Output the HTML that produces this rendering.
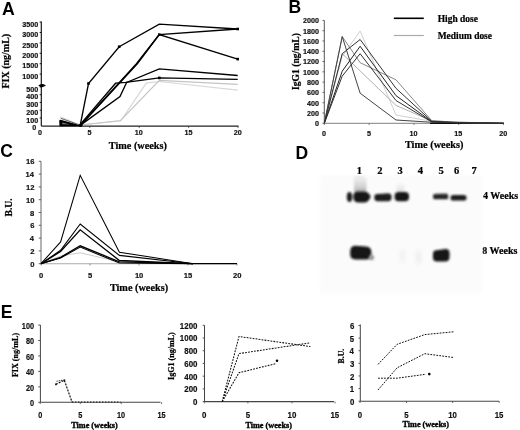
<!DOCTYPE html>
<html><head><meta charset="utf-8"><style>
html,body{margin:0;padding:0;background:#fff;width:520px;height:430px;overflow:hidden}
svg{display:block;will-change:transform;filter:blur(0.3px)}
</style></head><body>
<svg width="520" height="430" viewBox="0 0 520 430">
<rect width="520" height="430" fill="#fff"/>
<text x="2.08" y="14.85" font-family='"Liberation Sans", sans-serif' font-size="17.7" font-weight="bold" fill="#000">A</text>
<text x="288.42" y="12.89" font-family='"Liberation Sans", sans-serif' font-size="17.5" font-weight="bold" fill="#000">B</text>
<text x="0.28" y="157.44" font-family='"Liberation Sans", sans-serif' font-size="17.5" font-weight="bold" fill="#000">C</text>
<text x="295.44" y="158.89" font-family='"Liberation Sans", sans-serif' font-size="17.5" font-weight="bold" fill="#000">D</text>
<text x="0.71" y="318.14" font-family='"Liberation Sans", sans-serif' font-size="17.5" font-weight="bold" fill="#000">E</text>
<line x1="41.3" y1="21.5" x2="41.3" y2="126.1" stroke="#111" stroke-width="1.15"/>
<line x1="41.3" y1="126.1" x2="238.5" y2="126.1" stroke="#222" stroke-width="1.3"/>
<text x="22.24" y="26.88" font-family='"Liberation Sans", sans-serif' font-size="7.2" font-weight="bold" fill="#111" stroke="#111" stroke-width="0.18">3500</text>
<line x1="39.699999999999996" y1="22.100000000000005" x2="41.3" y2="22.100000000000005" stroke="#111" stroke-width="1.0"/>
<text x="22.24" y="37.28" font-family='"Liberation Sans", sans-serif' font-size="7.2" font-weight="bold" fill="#111" stroke="#111" stroke-width="0.18">3000</text>
<line x1="39.699999999999996" y1="32.50000000000001" x2="41.3" y2="32.50000000000001" stroke="#111" stroke-width="1.0"/>
<text x="22.24" y="47.68" font-family='"Liberation Sans", sans-serif' font-size="7.2" font-weight="bold" fill="#111" stroke="#111" stroke-width="0.18">2500</text>
<line x1="39.699999999999996" y1="42.900000000000006" x2="41.3" y2="42.900000000000006" stroke="#111" stroke-width="1.0"/>
<text x="22.24" y="58.08" font-family='"Liberation Sans", sans-serif' font-size="7.2" font-weight="bold" fill="#111" stroke="#111" stroke-width="0.18">2000</text>
<line x1="39.699999999999996" y1="53.30000000000001" x2="41.3" y2="53.30000000000001" stroke="#111" stroke-width="1.0"/>
<text x="22.24" y="68.48" font-family='"Liberation Sans", sans-serif' font-size="7.2" font-weight="bold" fill="#111" stroke="#111" stroke-width="0.18">1500</text>
<line x1="39.699999999999996" y1="63.7" x2="41.3" y2="63.7" stroke="#111" stroke-width="1.0"/>
<text x="22.24" y="78.88" font-family='"Liberation Sans", sans-serif' font-size="7.2" font-weight="bold" fill="#111" stroke="#111" stroke-width="0.18">1000</text>
<line x1="39.699999999999996" y1="74.10000000000001" x2="41.3" y2="74.10000000000001" stroke="#111" stroke-width="1.0"/>
<text x="26.25" y="91.73" font-family='"Liberation Sans", sans-serif' font-size="7.2" font-weight="bold" fill="#111" stroke="#111" stroke-width="0.18">500</text>
<line x1="39.699999999999996" y1="86.95" x2="41.3" y2="86.95" stroke="#111" stroke-width="1.0"/>
<text x="26.25" y="99.48" font-family='"Liberation Sans", sans-serif' font-size="7.2" font-weight="bold" fill="#111" stroke="#111" stroke-width="0.18">400</text>
<line x1="39.699999999999996" y1="94.7" x2="41.3" y2="94.7" stroke="#111" stroke-width="1.0"/>
<text x="26.25" y="107.23" font-family='"Liberation Sans", sans-serif' font-size="7.2" font-weight="bold" fill="#111" stroke="#111" stroke-width="0.18">300</text>
<line x1="39.699999999999996" y1="102.45" x2="41.3" y2="102.45" stroke="#111" stroke-width="1.0"/>
<text x="26.25" y="114.98" font-family='"Liberation Sans", sans-serif' font-size="7.2" font-weight="bold" fill="#111" stroke="#111" stroke-width="0.18">200</text>
<line x1="39.699999999999996" y1="110.2" x2="41.3" y2="110.2" stroke="#111" stroke-width="1.0"/>
<text x="26.25" y="122.73" font-family='"Liberation Sans", sans-serif' font-size="7.2" font-weight="bold" fill="#111" stroke="#111" stroke-width="0.18">100</text>
<line x1="39.699999999999996" y1="117.95" x2="41.3" y2="117.95" stroke="#111" stroke-width="1.0"/>
<text x="32.26" y="130.48" font-family='"Liberation Sans", sans-serif' font-size="7.2" font-weight="bold" fill="#111" stroke="#111" stroke-width="0.18">0</text>
<path d="M38.3,85.5 Q40,83.6 43,84 L46,85.5 L43,87.1 Q40,87.4 38.3,85.5 Z" fill="#000"/>
<text x="37.92" y="134.88" font-family='"Liberation Sans", sans-serif' font-size="7.2" font-weight="bold" fill="#111" stroke="#111" stroke-width="0.18">0</text>
<text x="87.48" y="134.85" font-family='"Liberation Sans", sans-serif' font-size="7.2" font-weight="bold" fill="#111" stroke="#111" stroke-width="0.18">5</text>
<text x="134.81" y="134.88" font-family='"Liberation Sans", sans-serif' font-size="7.2" font-weight="bold" fill="#111" stroke="#111" stroke-width="0.18">10</text>
<text x="184.47" y="134.85" font-family='"Liberation Sans", sans-serif' font-size="7.2" font-weight="bold" fill="#111" stroke="#111" stroke-width="0.18">15</text>
<text x="233.82" y="134.88" font-family='"Liberation Sans", sans-serif' font-size="7.2" font-weight="bold" fill="#111" stroke="#111" stroke-width="0.18">20</text>
<line x1="89.8" y1="126.1" x2="89.8" y2="127.89999999999999" stroke="#333" stroke-width="0.8"/>
<line x1="139.2" y1="126.1" x2="139.2" y2="127.89999999999999" stroke="#333" stroke-width="0.8"/>
<line x1="188.6" y1="126.1" x2="188.6" y2="127.89999999999999" stroke="#333" stroke-width="0.8"/>
<line x1="238" y1="126.1" x2="238" y2="127.89999999999999" stroke="#333" stroke-width="0.8"/>
<text x="108.79" y="148.50" font-family='"Liberation Serif", serif' font-size="10.25" font-weight="bold" fill="#000" stroke="#000" stroke-width="0.22">Time (weeks)</text>
<text x="-27.20" y="0" transform="translate(8.60 61.40) rotate(-90)" font-family='"Liberation Serif", serif' font-size="10" font-weight="bold" fill="#000" stroke="#000" stroke-width="0.22">FIX (ng/mL)</text>
<polyline points="60.40,116.70 80.20,125.00 120.60,121.00 146.30,83.10 159.30,81.50 237.70,90.20" fill="none" stroke="#d8d8d8" stroke-width="1.2" stroke-linejoin="miter"/>
<polyline points="80.20,125.00 120.60,120.50 159.30,80.40 237.70,84.30" fill="none" stroke="#c4c4c4" stroke-width="1.2" stroke-linejoin="miter"/>
<polyline points="80.20,125.40 88.50,83.50 119.20,46.70 159.30,24.20 237.70,29.00" fill="none" stroke="#000" stroke-width="1.35" stroke-linejoin="miter"/>
<polyline points="80.20,125.40 136.50,63.80 159.20,34.60 237.70,29.00" fill="none" stroke="#000" stroke-width="1.5" stroke-linejoin="miter"/>
<polyline points="80.60,125.40 137.50,63.50 159.20,34.60 237.70,59.10" fill="none" stroke="#000" stroke-width="1.4" stroke-linejoin="miter"/>
<polyline points="80.20,125.40 120.00,96.60 126.60,82.50 159.30,68.90 237.70,75.50" fill="none" stroke="#000" stroke-width="1.35" stroke-linejoin="miter"/>
<polyline points="79.40,125.40 115.60,83.20 125.80,82.40 159.30,77.90 237.70,79.40" fill="none" stroke="#000" stroke-width="1.35" stroke-linejoin="miter"/>
<path d="M59.2,121 Q59.4,119.6 60.6,119.8 L80.3,125.2 L80.3,126.2 L59.5,126.2 Z" fill="#000"/>
<path d="M62,124.2 L70,124.6 L62.5,122.6 Z" fill="#777"/>
<polyline points="60.80,118.30 80.30,125.30" fill="none" stroke="#333" stroke-width="0.8" stroke-linejoin="miter"/>
<ellipse cx="80.6" cy="125.6" rx="2" ry="1.3" fill="#000"/>
<rect x="236.39999999999998" y="27.7" width="2.6" height="2.6" fill="#000"/>
<rect x="236.39999999999998" y="57.800000000000004" width="2.6" height="2.6" fill="#000"/>
<rect x="158.0" y="33.300000000000004" width="2.6" height="2.6" fill="#000"/>
<rect x="87.2" y="82.2" width="2.6" height="2.6" fill="#000"/>
<rect x="117.9" y="45.400000000000006" width="2.6" height="2.6" fill="#000"/>
<rect x="158.0" y="76.60000000000001" width="2.6" height="2.6" fill="#000"/>
<line x1="324.3" y1="20.4" x2="324.3" y2="123.3" stroke="#555" stroke-width="1"/>
<line x1="324.3" y1="123.3" x2="504" y2="123.3" stroke="#999" stroke-width="1.2"/>
<text x="315.06" y="126.18" font-family='"Liberation Sans", sans-serif' font-size="7.2" font-weight="bold" fill="#111" stroke="#111" stroke-width="0.18">0</text>
<line x1="322.5" y1="123.3" x2="324.3" y2="123.3" stroke="#555" stroke-width="0.9"/>
<text x="307.05" y="115.89" font-family='"Liberation Sans", sans-serif' font-size="7.2" font-weight="bold" fill="#111" stroke="#111" stroke-width="0.18">200</text>
<line x1="322.5" y1="113.00999999999999" x2="324.3" y2="113.00999999999999" stroke="#555" stroke-width="0.9"/>
<text x="307.05" y="105.60" font-family='"Liberation Sans", sans-serif' font-size="7.2" font-weight="bold" fill="#111" stroke="#111" stroke-width="0.18">400</text>
<line x1="322.5" y1="102.72" x2="324.3" y2="102.72" stroke="#555" stroke-width="0.9"/>
<text x="307.05" y="95.31" font-family='"Liberation Sans", sans-serif' font-size="7.2" font-weight="bold" fill="#111" stroke="#111" stroke-width="0.18">600</text>
<line x1="322.5" y1="92.42999999999999" x2="324.3" y2="92.42999999999999" stroke="#555" stroke-width="0.9"/>
<text x="307.05" y="85.02" font-family='"Liberation Sans", sans-serif' font-size="7.2" font-weight="bold" fill="#111" stroke="#111" stroke-width="0.18">800</text>
<line x1="322.5" y1="82.13999999999999" x2="324.3" y2="82.13999999999999" stroke="#555" stroke-width="0.9"/>
<text x="303.04" y="74.73" font-family='"Liberation Sans", sans-serif' font-size="7.2" font-weight="bold" fill="#111" stroke="#111" stroke-width="0.18">1000</text>
<line x1="322.5" y1="71.85" x2="324.3" y2="71.85" stroke="#555" stroke-width="0.9"/>
<text x="303.04" y="64.44" font-family='"Liberation Sans", sans-serif' font-size="7.2" font-weight="bold" fill="#111" stroke="#111" stroke-width="0.18">1200</text>
<line x1="322.5" y1="61.559999999999995" x2="324.3" y2="61.559999999999995" stroke="#555" stroke-width="0.9"/>
<text x="303.04" y="54.15" font-family='"Liberation Sans", sans-serif' font-size="7.2" font-weight="bold" fill="#111" stroke="#111" stroke-width="0.18">1400</text>
<line x1="322.5" y1="51.269999999999996" x2="324.3" y2="51.269999999999996" stroke="#555" stroke-width="0.9"/>
<text x="303.04" y="43.86" font-family='"Liberation Sans", sans-serif' font-size="7.2" font-weight="bold" fill="#111" stroke="#111" stroke-width="0.18">1600</text>
<line x1="322.5" y1="40.97999999999999" x2="324.3" y2="40.97999999999999" stroke="#555" stroke-width="0.9"/>
<text x="303.04" y="33.57" font-family='"Liberation Sans", sans-serif' font-size="7.2" font-weight="bold" fill="#111" stroke="#111" stroke-width="0.18">1800</text>
<line x1="322.5" y1="30.689999999999998" x2="324.3" y2="30.689999999999998" stroke="#555" stroke-width="0.9"/>
<text x="303.04" y="23.28" font-family='"Liberation Sans", sans-serif' font-size="7.2" font-weight="bold" fill="#111" stroke="#111" stroke-width="0.18">2000</text>
<line x1="322.5" y1="20.39999999999999" x2="324.3" y2="20.39999999999999" stroke="#555" stroke-width="0.9"/>
<text x="322.12" y="136.08" font-family='"Liberation Sans", sans-serif' font-size="7.2" font-weight="bold" fill="#111" stroke="#111" stroke-width="0.18">0</text>
<line x1="324.3" y1="123.3" x2="324.3" y2="125.1" stroke="#666" stroke-width="0.8"/>
<text x="366.88" y="136.05" font-family='"Liberation Sans", sans-serif' font-size="7.2" font-weight="bold" fill="#111" stroke="#111" stroke-width="0.18">5</text>
<line x1="369.1" y1="123.3" x2="369.1" y2="125.1" stroke="#666" stroke-width="0.8"/>
<text x="409.61" y="136.08" font-family='"Liberation Sans", sans-serif' font-size="7.2" font-weight="bold" fill="#111" stroke="#111" stroke-width="0.18">10</text>
<line x1="413.90000000000003" y1="123.3" x2="413.90000000000003" y2="125.1" stroke="#666" stroke-width="0.8"/>
<text x="454.37" y="136.05" font-family='"Liberation Sans", sans-serif' font-size="7.2" font-weight="bold" fill="#111" stroke="#111" stroke-width="0.18">15</text>
<line x1="458.70000000000005" y1="123.3" x2="458.70000000000005" y2="125.1" stroke="#666" stroke-width="0.8"/>
<text x="499.32" y="136.08" font-family='"Liberation Sans", sans-serif' font-size="7.2" font-weight="bold" fill="#111" stroke="#111" stroke-width="0.18">20</text>
<line x1="503.5" y1="123.3" x2="503.5" y2="125.1" stroke="#666" stroke-width="0.8"/>
<text x="404.94" y="147.70" font-family='"Liberation Serif", serif' font-size="10.3" font-weight="bold" fill="#000" stroke="#000" stroke-width="0.22">Time (weeks)</text>
<text x="-28.34" y="0" transform="translate(299.00 61.60) rotate(-90)" font-family='"Liberation Serif", serif' font-size="9.6" font-weight="bold" fill="#000" stroke="#000" stroke-width="0.22">IgG1 (ng/mL)</text>
<line x1="393.8" y1="18.3" x2="423.8" y2="18.3" stroke="#000" stroke-width="1.6"/>
<line x1="393.8" y1="35.5" x2="423.8" y2="35.5" stroke="#aaa" stroke-width="1.2"/>
<text x="437.71" y="21.80" font-family='"Liberation Serif", serif' font-size="9.45" font-weight="bold" fill="#000" stroke="#000" stroke-width="0.22">High dose</text>
<text x="437.71" y="39.30" font-family='"Liberation Serif", serif' font-size="9.45" font-weight="bold" fill="#000" stroke="#000" stroke-width="0.22">Medium dose</text>
<line x1="430.028" y1="123.3" x2="504" y2="123.3" stroke="#111" stroke-width="1.3"/>
<polyline points="324.30,123.30 342.22,56.41 360.14,31.00 395.98,115.07 431.82,121.24 458.70,122.01 503.50,123.30" fill="none" stroke="#d0d0d0" stroke-width="1.0" stroke-linejoin="miter"/>
<polyline points="324.30,123.30 342.22,53.69 360.14,70.92 395.98,105.40 431.82,120.98 458.70,122.27 503.50,123.30" fill="none" stroke="#b0b0b0" stroke-width="1.0" stroke-linejoin="miter"/>
<polyline points="324.30,123.30 342.22,36.61 360.14,62.69 395.98,79.82 431.82,120.73 458.70,122.27 503.50,123.30" fill="none" stroke="#888" stroke-width="1.0" stroke-linejoin="miter"/>
<polyline points="324.30,123.30 342.22,36.61 360.14,93.20 395.98,120.01 431.82,122.27 503.50,123.30" fill="none" stroke="#444" stroke-width="1.0" stroke-linejoin="miter"/>
<polyline points="324.30,123.30 342.22,53.69 360.14,39.49 395.98,88.31 431.82,121.24 458.70,122.79 503.50,123.30" fill="none" stroke="#333" stroke-width="1.0" stroke-linejoin="miter"/>
<polyline points="324.30,123.30 342.22,71.18 360.14,46.28 395.98,95.62 431.82,121.76 458.70,122.79 503.50,123.30" fill="none" stroke="#222" stroke-width="1.0" stroke-linejoin="miter"/>
<polyline points="324.30,123.30 342.22,76.12 360.14,53.69 395.98,100.51 431.82,122.01 503.50,123.30" fill="none" stroke="#333" stroke-width="1.0" stroke-linejoin="miter"/>
<line x1="41.0" y1="161.3" x2="41.0" y2="263.7" stroke="#666" stroke-width="1"/>
<line x1="41.0" y1="263.7" x2="237" y2="263.7" stroke="#aaa" stroke-width="1.1"/>
<text x="30.15" y="266.82" font-family='"Liberation Sans", sans-serif' font-size="7.6" font-weight="bold" fill="#111" stroke="#111" stroke-width="0.18">0</text>
<line x1="38.7" y1="263.7" x2="41.0" y2="263.7" stroke="#555" stroke-width="0.9"/>
<text x="30.15" y="254.06" font-family='"Liberation Sans", sans-serif' font-size="7.6" font-weight="bold" fill="#111" stroke="#111" stroke-width="0.18">2</text>
<line x1="38.7" y1="250.89999999999998" x2="41.0" y2="250.89999999999998" stroke="#555" stroke-width="0.9"/>
<text x="29.84" y="241.22" font-family='"Liberation Sans", sans-serif' font-size="7.6" font-weight="bold" fill="#111" stroke="#111" stroke-width="0.18">4</text>
<line x1="38.7" y1="238.1" x2="41.0" y2="238.1" stroke="#555" stroke-width="0.9"/>
<text x="30.15" y="228.42" font-family='"Liberation Sans", sans-serif' font-size="7.6" font-weight="bold" fill="#111" stroke="#111" stroke-width="0.18">6</text>
<line x1="38.7" y1="225.29999999999998" x2="41.0" y2="225.29999999999998" stroke="#555" stroke-width="0.9"/>
<text x="30.07" y="215.62" font-family='"Liberation Sans", sans-serif' font-size="7.6" font-weight="bold" fill="#111" stroke="#111" stroke-width="0.18">8</text>
<line x1="38.7" y1="212.5" x2="41.0" y2="212.5" stroke="#555" stroke-width="0.9"/>
<text x="25.92" y="202.82" font-family='"Liberation Sans", sans-serif' font-size="7.6" font-weight="bold" fill="#111" stroke="#111" stroke-width="0.18">10</text>
<line x1="38.7" y1="199.7" x2="41.0" y2="199.7" stroke="#555" stroke-width="0.9"/>
<text x="25.92" y="190.06" font-family='"Liberation Sans", sans-serif' font-size="7.6" font-weight="bold" fill="#111" stroke="#111" stroke-width="0.18">12</text>
<line x1="38.7" y1="186.89999999999998" x2="41.0" y2="186.89999999999998" stroke="#555" stroke-width="0.9"/>
<text x="25.62" y="177.22" font-family='"Liberation Sans", sans-serif' font-size="7.6" font-weight="bold" fill="#111" stroke="#111" stroke-width="0.18">14</text>
<line x1="38.7" y1="174.09999999999997" x2="41.0" y2="174.09999999999997" stroke="#555" stroke-width="0.9"/>
<text x="25.92" y="164.42" font-family='"Liberation Sans", sans-serif' font-size="7.6" font-weight="bold" fill="#111" stroke="#111" stroke-width="0.18">16</text>
<line x1="38.7" y1="161.29999999999998" x2="41.0" y2="161.29999999999998" stroke="#555" stroke-width="0.9"/>
<text x="39.11" y="278.12" font-family='"Liberation Sans", sans-serif' font-size="7.6" font-weight="bold" fill="#111" stroke="#111" stroke-width="0.18">0</text>
<line x1="41.0" y1="263.7" x2="41.0" y2="265.5" stroke="#777" stroke-width="0.8"/>
<text x="88.07" y="278.08" font-family='"Liberation Sans", sans-serif' font-size="7.6" font-weight="bold" fill="#111" stroke="#111" stroke-width="0.18">5</text>
<line x1="90.0" y1="263.7" x2="90.0" y2="265.5" stroke="#777" stroke-width="0.8"/>
<text x="134.88" y="278.12" font-family='"Liberation Sans", sans-serif' font-size="7.6" font-weight="bold" fill="#111" stroke="#111" stroke-width="0.18">10</text>
<line x1="139.0" y1="263.7" x2="139.0" y2="265.5" stroke="#777" stroke-width="0.8"/>
<text x="183.84" y="278.08" font-family='"Liberation Sans", sans-serif' font-size="7.6" font-weight="bold" fill="#111" stroke="#111" stroke-width="0.18">15</text>
<line x1="188.0" y1="263.7" x2="188.0" y2="265.5" stroke="#777" stroke-width="0.8"/>
<text x="233.00" y="278.12" font-family='"Liberation Sans", sans-serif' font-size="7.6" font-weight="bold" fill="#111" stroke="#111" stroke-width="0.18">20</text>
<line x1="237.0" y1="263.7" x2="237.0" y2="265.5" stroke="#777" stroke-width="0.8"/>
<text x="109.89" y="291.00" font-family='"Liberation Serif", serif' font-size="10.25" font-weight="bold" fill="#000" stroke="#000" stroke-width="0.22">Time (weeks)</text>
<text x="-9.02" y="0" transform="translate(11.50 207.50) rotate(-90)" font-family='"Liberation Serif", serif' font-size="9.7" font-weight="bold" fill="#000" stroke="#000" stroke-width="0.22">B.U.</text>
<polyline points="41.00,263.70 60.60,256.02 80.20,252.82 119.40,261.78 192.90,263.70" fill="none" stroke="#ccc" stroke-width="1.0" stroke-linejoin="miter"/>
<polyline points="41.00,263.70 60.60,241.94 80.20,175.38 119.40,252.18 192.90,263.70" fill="none" stroke="#000" stroke-width="1.05" stroke-linejoin="miter"/>
<polyline points="41.00,263.70 60.60,250.26 80.20,224.02 119.40,255.38 192.90,263.70" fill="none" stroke="#000" stroke-width="1.05" stroke-linejoin="miter"/>
<polyline points="41.00,263.70 60.60,251.54 80.20,229.78 119.40,260.50 192.90,263.70" fill="none" stroke="#000" stroke-width="1.3" stroke-linejoin="miter"/>
<polyline points="41.00,263.70 60.60,257.30 80.20,245.78 119.40,261.78 192.90,263.70" fill="none" stroke="#000" stroke-width="1.3" stroke-linejoin="miter"/>
<polyline points="41.00,263.70 60.60,257.94 80.20,247.06 119.40,263.06 192.90,263.70" fill="none" stroke="#000" stroke-width="1.1" stroke-linejoin="miter"/>
<line x1="192.9" y1="263.7" x2="237.0" y2="263.7" stroke="#000" stroke-width="1.3"/>
<text x="356.87" y="173.90" font-family='"Liberation Serif", serif' font-size="10.5" font-weight="bold" fill="#000" stroke="#000" stroke-width="0.22">1</text>
<text x="377.27" y="173.90" font-family='"Liberation Serif", serif' font-size="10.5" font-weight="bold" fill="#000" stroke="#000" stroke-width="0.22">2</text>
<text x="397.48" y="173.90" font-family='"Liberation Serif", serif' font-size="10.5" font-weight="bold" fill="#000" stroke="#000" stroke-width="0.22">3</text>
<text x="417.68" y="173.90" font-family='"Liberation Serif", serif' font-size="10.5" font-weight="bold" fill="#000" stroke="#000" stroke-width="0.22">4</text>
<text x="438.62" y="173.90" font-family='"Liberation Serif", serif' font-size="10.5" font-weight="bold" fill="#000" stroke="#000" stroke-width="0.22">5</text>
<text x="453.92" y="173.90" font-family='"Liberation Serif", serif' font-size="10.5" font-weight="bold" fill="#000" stroke="#000" stroke-width="0.22">6</text>
<text x="471.42" y="173.90" font-family='"Liberation Serif", serif' font-size="10.5" font-weight="bold" fill="#000" stroke="#000" stroke-width="0.22">7</text>
<text x="483.00" y="199.20" font-family='"Liberation Serif", serif' font-size="10" font-weight="bold" fill="#000" stroke="#000" stroke-width="0.22">4 Weeks</text>
<text x="482.30" y="254.10" font-family='"Liberation Serif", serif' font-size="10" font-weight="bold" fill="#000" stroke="#000" stroke-width="0.22">8 Weeks</text>
<defs><filter id="bl" x="-50%" y="-50%" width="200%" height="200%"><feGaussianBlur stdDeviation="0.85"/></filter><filter id="bl2" x="-50%" y="-50%" width="200%" height="200%"><feGaussianBlur stdDeviation="2.0"/></filter><filter id="bl1" x="-50%" y="-50%" width="200%" height="200%"><feGaussianBlur stdDeviation="1.2"/></filter><filter id="bl3" x="-10%" y="-10%" width="120%" height="120%"><feGaussianBlur stdDeviation="1.5"/></filter><linearGradient id="sm" x1="0" y1="0" x2="0" y2="1"><stop offset="0" stop-color="#f4f4f4"/><stop offset="0.6" stop-color="#d4d4d4"/><stop offset="1" stop-color="#b0b0b0"/></linearGradient><linearGradient id="sm3" x1="0" y1="0" x2="0" y2="1"><stop offset="0" stop-color="#fbfbfb"/><stop offset="1" stop-color="#e0e0e0"/></linearGradient></defs>
<rect x="320" y="175.8" width="162" height="116.8" fill="#fbfbfb" filter="url(#bl3)"/>
<rect x="354" y="176.5" width="12.5" height="16" rx="3" fill="url(#sm)" filter="url(#bl1)"/>
<rect x="396.5" y="182" width="8" height="10.5" rx="3" fill="url(#sm3)" filter="url(#bl1)"/>
<ellipse cx="359" cy="177.5" rx="6" ry="1.2" fill="#e6e6e6" filter="url(#bl)"/>
<g filter="url(#bl)">
<ellipse cx="349.5" cy="197" rx="2.7" ry="5.1" fill="#1e1e1e"/>
<path d="M353.3,196.5 Q353.3,191.6 358,191.6 L365,191.6 Q368.5,192 370.7,196.6 Q368.5,202.4 365,202.4 L358,202.4 Q353.3,202.4 353.3,196.5 Z" fill="#121212"/>
<path d="M374.3,197.5 Q374.3,194 377,194 L383,193.8 L388,193.3 Q391.6,193.3 391.6,197 Q391.6,201.3 388,201.3 L377.5,201.3 Q374.3,201.3 374.3,197.5 Z" fill="#1c1c1c"/>
<rect x="394.6" y="192.1" width="14.4" height="9.2" rx="4" fill="#161616"/>
<path d="M432.9,196.6 Q432.9,193.7 435.5,193.7 L446,193.4 Q448.3,193.4 448.3,196.2 Q448.3,199.3 446,199.3 L435.5,199.3 Q432.9,199.3 432.9,196.6 Z" fill="#333"/>
<rect x="433.5" y="196.5" width="14.5" height="2.6" rx="1.2" fill="#1a1a1a"/>
<rect x="450.5" y="195" width="16" height="5.6" rx="2.7" fill="#1c1c1c"/>
<path d="M350.3,250.5 Q350.5,245.8 355.5,245.8 L366,246.4 Q371.2,246.8 371.4,252 L371.3,255 Q371,259.6 366,259.6 L355.5,259.5 Q350.4,259.3 350.2,254.5 Z" fill="#141414"/>
<path d="M433,254 Q432.8,250.6 436.5,250.3 L445.5,248.9 Q449.5,248.8 449.6,253 L449.5,257.5 Q449.2,261.4 445,261.4 L437,261.5 Q433,261.5 432.9,257.5 Z" fill="#131313"/>
</g>
<ellipse cx="371.5" cy="257.5" rx="2.6" ry="2.8" fill="#999" filter="url(#bl1)"/>
<ellipse cx="402.5" cy="256" rx="2.5" ry="7" fill="#f0f0f0" filter="url(#bl2)"/>
<ellipse cx="418.5" cy="257" rx="2.5" ry="8" fill="#ededed" filter="url(#bl2)"/>
<line x1="40.4" y1="325" x2="40.4" y2="402.3" stroke="#444" stroke-width="1"/>
<line x1="40.4" y1="402.3" x2="160.5" y2="402.3" stroke="#444" stroke-width="1.1"/>
<text transform="translate(30.00 406.17) scale(0.85 1)" font-family='"Liberation Sans", sans-serif' font-size="8.6" font-weight="bold" fill="#111" stroke="#111" stroke-width="0.18">0</text>
<line x1="38.199999999999996" y1="402.3" x2="40.4" y2="402.3" stroke="#444" stroke-width="0.9"/>
<text transform="translate(25.93 390.72) scale(0.85 1)" font-family='"Liberation Sans", sans-serif' font-size="8.6" font-weight="bold" fill="#111" stroke="#111" stroke-width="0.18">20</text>
<line x1="38.199999999999996" y1="386.85" x2="40.4" y2="386.85" stroke="#444" stroke-width="0.9"/>
<text transform="translate(25.93 375.27) scale(0.85 1)" font-family='"Liberation Sans", sans-serif' font-size="8.6" font-weight="bold" fill="#111" stroke="#111" stroke-width="0.18">40</text>
<line x1="38.199999999999996" y1="371.40000000000003" x2="40.4" y2="371.40000000000003" stroke="#444" stroke-width="0.9"/>
<text transform="translate(25.93 359.82) scale(0.85 1)" font-family='"Liberation Sans", sans-serif' font-size="8.6" font-weight="bold" fill="#111" stroke="#111" stroke-width="0.18">60</text>
<line x1="38.199999999999996" y1="355.95000000000005" x2="40.4" y2="355.95000000000005" stroke="#444" stroke-width="0.9"/>
<text transform="translate(25.93 344.37) scale(0.85 1)" font-family='"Liberation Sans", sans-serif' font-size="8.6" font-weight="bold" fill="#111" stroke="#111" stroke-width="0.18">80</text>
<line x1="38.199999999999996" y1="340.5" x2="40.4" y2="340.5" stroke="#444" stroke-width="0.9"/>
<text transform="translate(21.87 328.92) scale(0.85 1)" font-family='"Liberation Sans", sans-serif' font-size="8.6" font-weight="bold" fill="#111" stroke="#111" stroke-width="0.18">100</text>
<line x1="38.199999999999996" y1="325.05" x2="40.4" y2="325.05" stroke="#444" stroke-width="0.9"/>
<text transform="translate(38.19 418.27) scale(0.85 1)" font-family='"Liberation Sans", sans-serif' font-size="8.6" font-weight="bold" fill="#111" stroke="#111" stroke-width="0.18">0</text>
<line x1="40.2" y1="402.3" x2="40.2" y2="404.1" stroke="#444" stroke-width="0.8"/>
<text transform="translate(78.25 418.22) scale(0.85 1)" font-family='"Liberation Sans", sans-serif' font-size="8.6" font-weight="bold" fill="#111" stroke="#111" stroke-width="0.18">5</text>
<line x1="80.3" y1="402.3" x2="80.3" y2="404.1" stroke="#444" stroke-width="0.8"/>
<text transform="translate(117.05 418.27) scale(0.85 1)" font-family='"Liberation Sans", sans-serif' font-size="8.6" font-weight="bold" fill="#111" stroke="#111" stroke-width="0.18">10</text>
<line x1="121.2" y1="402.3" x2="121.2" y2="404.1" stroke="#444" stroke-width="0.8"/>
<text transform="translate(157.41 418.22) scale(0.85 1)" font-family='"Liberation Sans", sans-serif' font-size="8.6" font-weight="bold" fill="#111" stroke="#111" stroke-width="0.18">15</text>
<line x1="161.6" y1="402.3" x2="161.6" y2="404.1" stroke="#444" stroke-width="0.8"/>
<text x="71.27" y="428.10" font-family='"Liberation Serif", serif' font-size="8.2" font-weight="bold" fill="#000" stroke="#000" stroke-width="0.35">Time (weeks)</text>
<text x="-22.03" y="0" transform="translate(17.60 355.10) rotate(-90)" font-family='"Liberation Serif", serif' font-size="8.1" font-weight="bold" fill="#000" stroke="#000" stroke-width="0.22">FIX (ng/mL)</text>
<polyline points="55.90,384.30 64.30,380.20 72.00,402.00" fill="none" stroke="#111" stroke-width="1.2" stroke-linejoin="miter" stroke-dasharray="2,1.2"/>
<polyline points="56.50,381.30 62.20,380.20" fill="none" stroke="#111" stroke-width="0.9" stroke-linejoin="miter" stroke-dasharray="1.2,1"/>
<rect x="55.1" y="383.5" width="1.7" height="1.7" fill="#111"/>
<rect x="63.5" y="379.4" width="1.7" height="1.7" fill="#111"/>
<polyline points="72.00,402.00 120.50,402.00" fill="none" stroke="#111" stroke-width="1.2" stroke-linejoin="miter" stroke-dasharray="1.4,1.6"/>
<line x1="204.5" y1="325.3" x2="204.5" y2="401.6" stroke="#444" stroke-width="1"/>
<line x1="204.5" y1="401.6" x2="334" y2="401.6" stroke="#444" stroke-width="1.1"/>
<text transform="translate(193.08 405.04) scale(0.9 1)" font-family='"Liberation Sans", sans-serif' font-size="8.8" font-weight="bold" fill="#111" stroke="#111" stroke-width="0.18">0</text>
<line x1="202.7" y1="401.6" x2="204.5" y2="401.6" stroke="#444" stroke-width="0.9"/>
<text transform="translate(184.27 392.32) scale(0.9 1)" font-family='"Liberation Sans", sans-serif' font-size="8.8" font-weight="bold" fill="#111" stroke="#111" stroke-width="0.18">200</text>
<line x1="202.7" y1="388.88" x2="204.5" y2="388.88" stroke="#444" stroke-width="0.9"/>
<text transform="translate(184.27 379.60) scale(0.9 1)" font-family='"Liberation Sans", sans-serif' font-size="8.8" font-weight="bold" fill="#111" stroke="#111" stroke-width="0.18">400</text>
<line x1="202.7" y1="376.16" x2="204.5" y2="376.16" stroke="#444" stroke-width="0.9"/>
<text transform="translate(184.27 366.88) scale(0.9 1)" font-family='"Liberation Sans", sans-serif' font-size="8.8" font-weight="bold" fill="#111" stroke="#111" stroke-width="0.18">600</text>
<line x1="202.7" y1="363.44" x2="204.5" y2="363.44" stroke="#444" stroke-width="0.9"/>
<text transform="translate(184.27 354.16) scale(0.9 1)" font-family='"Liberation Sans", sans-serif' font-size="8.8" font-weight="bold" fill="#111" stroke="#111" stroke-width="0.18">800</text>
<line x1="202.7" y1="350.72" x2="204.5" y2="350.72" stroke="#444" stroke-width="0.9"/>
<text transform="translate(179.87 341.44) scale(0.9 1)" font-family='"Liberation Sans", sans-serif' font-size="8.8" font-weight="bold" fill="#111" stroke="#111" stroke-width="0.18">1000</text>
<line x1="202.7" y1="338.0" x2="204.5" y2="338.0" stroke="#444" stroke-width="0.9"/>
<text transform="translate(179.87 328.72) scale(0.9 1)" font-family='"Liberation Sans", sans-serif' font-size="8.8" font-weight="bold" fill="#111" stroke="#111" stroke-width="0.18">1200</text>
<line x1="202.7" y1="325.28000000000003" x2="204.5" y2="325.28000000000003" stroke="#444" stroke-width="0.9"/>
<text transform="translate(202.12 417.94) scale(0.9 1)" font-family='"Liberation Sans", sans-serif' font-size="8.8" font-weight="bold" fill="#111" stroke="#111" stroke-width="0.18">0</text>
<line x1="204.3" y1="401.6" x2="204.3" y2="403.40000000000003" stroke="#444" stroke-width="0.8"/>
<text transform="translate(245.68 417.89) scale(0.9 1)" font-family='"Liberation Sans", sans-serif' font-size="8.8" font-weight="bold" fill="#111" stroke="#111" stroke-width="0.18">5</text>
<line x1="247.9" y1="401.6" x2="247.9" y2="403.40000000000003" stroke="#444" stroke-width="0.8"/>
<text transform="translate(287.50 417.94) scale(0.9 1)" font-family='"Liberation Sans", sans-serif' font-size="8.8" font-weight="bold" fill="#111" stroke="#111" stroke-width="0.18">10</text>
<line x1="292.0" y1="401.6" x2="292.0" y2="403.40000000000003" stroke="#444" stroke-width="0.8"/>
<text transform="translate(330.46 417.89) scale(0.9 1)" font-family='"Liberation Sans", sans-serif' font-size="8.8" font-weight="bold" fill="#111" stroke="#111" stroke-width="0.18">15</text>
<line x1="335.0" y1="401.6" x2="335.0" y2="403.40000000000003" stroke="#444" stroke-width="0.8"/>
<text x="245.42" y="427.80" font-family='"Liberation Serif", serif' font-size="8.2" font-weight="bold" fill="#000" stroke="#000" stroke-width="0.35">Time (weeks)</text>
<text x="-23.76" y="0" transform="translate(173.70 356.15) rotate(-90)" font-family='"Liberation Serif", serif' font-size="8.05" font-weight="bold" fill="#000" stroke="#000" stroke-width="0.22">IgG1 (ng/mL)</text>
<polyline points="222.20,401.60 239.00,336.50 310.40,346.60" fill="none" stroke="#111" stroke-width="1.05" stroke-linejoin="miter" stroke-dasharray="1.8,1.2"/>
<polyline points="222.20,401.60 239.00,353.60 310.40,342.80" fill="none" stroke="#111" stroke-width="1.05" stroke-linejoin="miter" stroke-dasharray="1.8,1.2"/>
<polyline points="222.20,401.60 239.00,372.70 276.30,363.50" fill="none" stroke="#111" stroke-width="1.05" stroke-linejoin="miter" stroke-dasharray="1.8,1.2"/>
<circle cx="277" cy="360.8" r="1.3" fill="#000"/>
<line x1="360.3" y1="324.5" x2="360.3" y2="401.2" stroke="#444" stroke-width="1"/>
<line x1="360.3" y1="401.2" x2="499" y2="401.2" stroke="#444" stroke-width="1.1"/>
<text transform="translate(349.93 404.77) scale(0.85 1)" font-family='"Liberation Sans", sans-serif' font-size="9.2" font-weight="bold" fill="#111" stroke="#111" stroke-width="0.18">0</text>
<line x1="358.5" y1="401.2" x2="360.3" y2="401.2" stroke="#444" stroke-width="0.9"/>
<text transform="translate(349.86 392.15) scale(0.85 1)" font-family='"Liberation Sans", sans-serif' font-size="9.2" font-weight="bold" fill="#111" stroke="#111" stroke-width="0.18">1</text>
<line x1="358.5" y1="388.58" x2="360.3" y2="388.58" stroke="#444" stroke-width="0.9"/>
<text transform="translate(349.93 379.58) scale(0.85 1)" font-family='"Liberation Sans", sans-serif' font-size="9.2" font-weight="bold" fill="#111" stroke="#111" stroke-width="0.18">2</text>
<line x1="358.5" y1="375.96" x2="360.3" y2="375.96" stroke="#444" stroke-width="0.9"/>
<text transform="translate(349.93 366.91) scale(0.85 1)" font-family='"Liberation Sans", sans-serif' font-size="9.2" font-weight="bold" fill="#111" stroke="#111" stroke-width="0.18">3</text>
<line x1="358.5" y1="363.34" x2="360.3" y2="363.34" stroke="#444" stroke-width="0.9"/>
<text transform="translate(349.62 354.29) scale(0.85 1)" font-family='"Liberation Sans", sans-serif' font-size="9.2" font-weight="bold" fill="#111" stroke="#111" stroke-width="0.18">4</text>
<line x1="358.5" y1="350.71999999999997" x2="360.3" y2="350.71999999999997" stroke="#444" stroke-width="0.9"/>
<text transform="translate(349.86 341.63) scale(0.85 1)" font-family='"Liberation Sans", sans-serif' font-size="9.2" font-weight="bold" fill="#111" stroke="#111" stroke-width="0.18">5</text>
<line x1="358.5" y1="338.1" x2="360.3" y2="338.1" stroke="#444" stroke-width="0.9"/>
<text transform="translate(349.93 329.05) scale(0.85 1)" font-family='"Liberation Sans", sans-serif' font-size="9.2" font-weight="bold" fill="#111" stroke="#111" stroke-width="0.18">6</text>
<line x1="358.5" y1="325.48" x2="360.3" y2="325.48" stroke="#444" stroke-width="0.9"/>
<text transform="translate(357.85 417.77) scale(0.85 1)" font-family='"Liberation Sans", sans-serif' font-size="9.2" font-weight="bold" fill="#111" stroke="#111" stroke-width="0.18">0</text>
<line x1="360.0" y1="401.2" x2="360.0" y2="403.0" stroke="#444" stroke-width="0.8"/>
<text transform="translate(404.36 417.73) scale(0.85 1)" font-family='"Liberation Sans", sans-serif' font-size="9.2" font-weight="bold" fill="#111" stroke="#111" stroke-width="0.18">5</text>
<line x1="406.55" y1="401.2" x2="406.55" y2="403.0" stroke="#444" stroke-width="0.8"/>
<text transform="translate(448.26 417.77) scale(0.85 1)" font-family='"Liberation Sans", sans-serif' font-size="9.2" font-weight="bold" fill="#111" stroke="#111" stroke-width="0.18">10</text>
<line x1="452.7" y1="401.2" x2="452.7" y2="403.0" stroke="#444" stroke-width="0.8"/>
<text transform="translate(494.72 417.73) scale(0.85 1)" font-family='"Liberation Sans", sans-serif' font-size="9.2" font-weight="bold" fill="#111" stroke="#111" stroke-width="0.18">15</text>
<line x1="499.2" y1="401.2" x2="499.2" y2="403.0" stroke="#444" stroke-width="0.8"/>
<text x="402.47" y="427.20" font-family='"Liberation Serif", serif' font-size="8.2" font-weight="bold" fill="#000" stroke="#000" stroke-width="0.35">Time (weeks)</text>
<text x="-7.16" y="0" transform="translate(344.00 356.25) rotate(-90)" font-family='"Liberation Serif", serif' font-size="7.7" font-weight="bold" fill="#000" stroke="#000" stroke-width="0.22">B.U.</text>
<polyline points="378.00,364.40 397.10,344.30 424.80,334.60 453.50,331.80" fill="none" stroke="#111" stroke-width="1.0" stroke-linejoin="miter" stroke-dasharray="1.8,1.2"/>
<polyline points="378.00,390.00 397.10,367.80 424.80,353.70 453.50,357.50" fill="none" stroke="#111" stroke-width="1.0" stroke-linejoin="miter" stroke-dasharray="1.8,1.2"/>
<polyline points="378.00,378.20 397.10,378.20 424.80,374.40" fill="none" stroke="#111" stroke-width="1.0" stroke-linejoin="miter" stroke-dasharray="1.8,1.2"/>
<circle cx="429.3" cy="374.1" r="1.3" fill="#000"/>
</svg>
</body></html>
